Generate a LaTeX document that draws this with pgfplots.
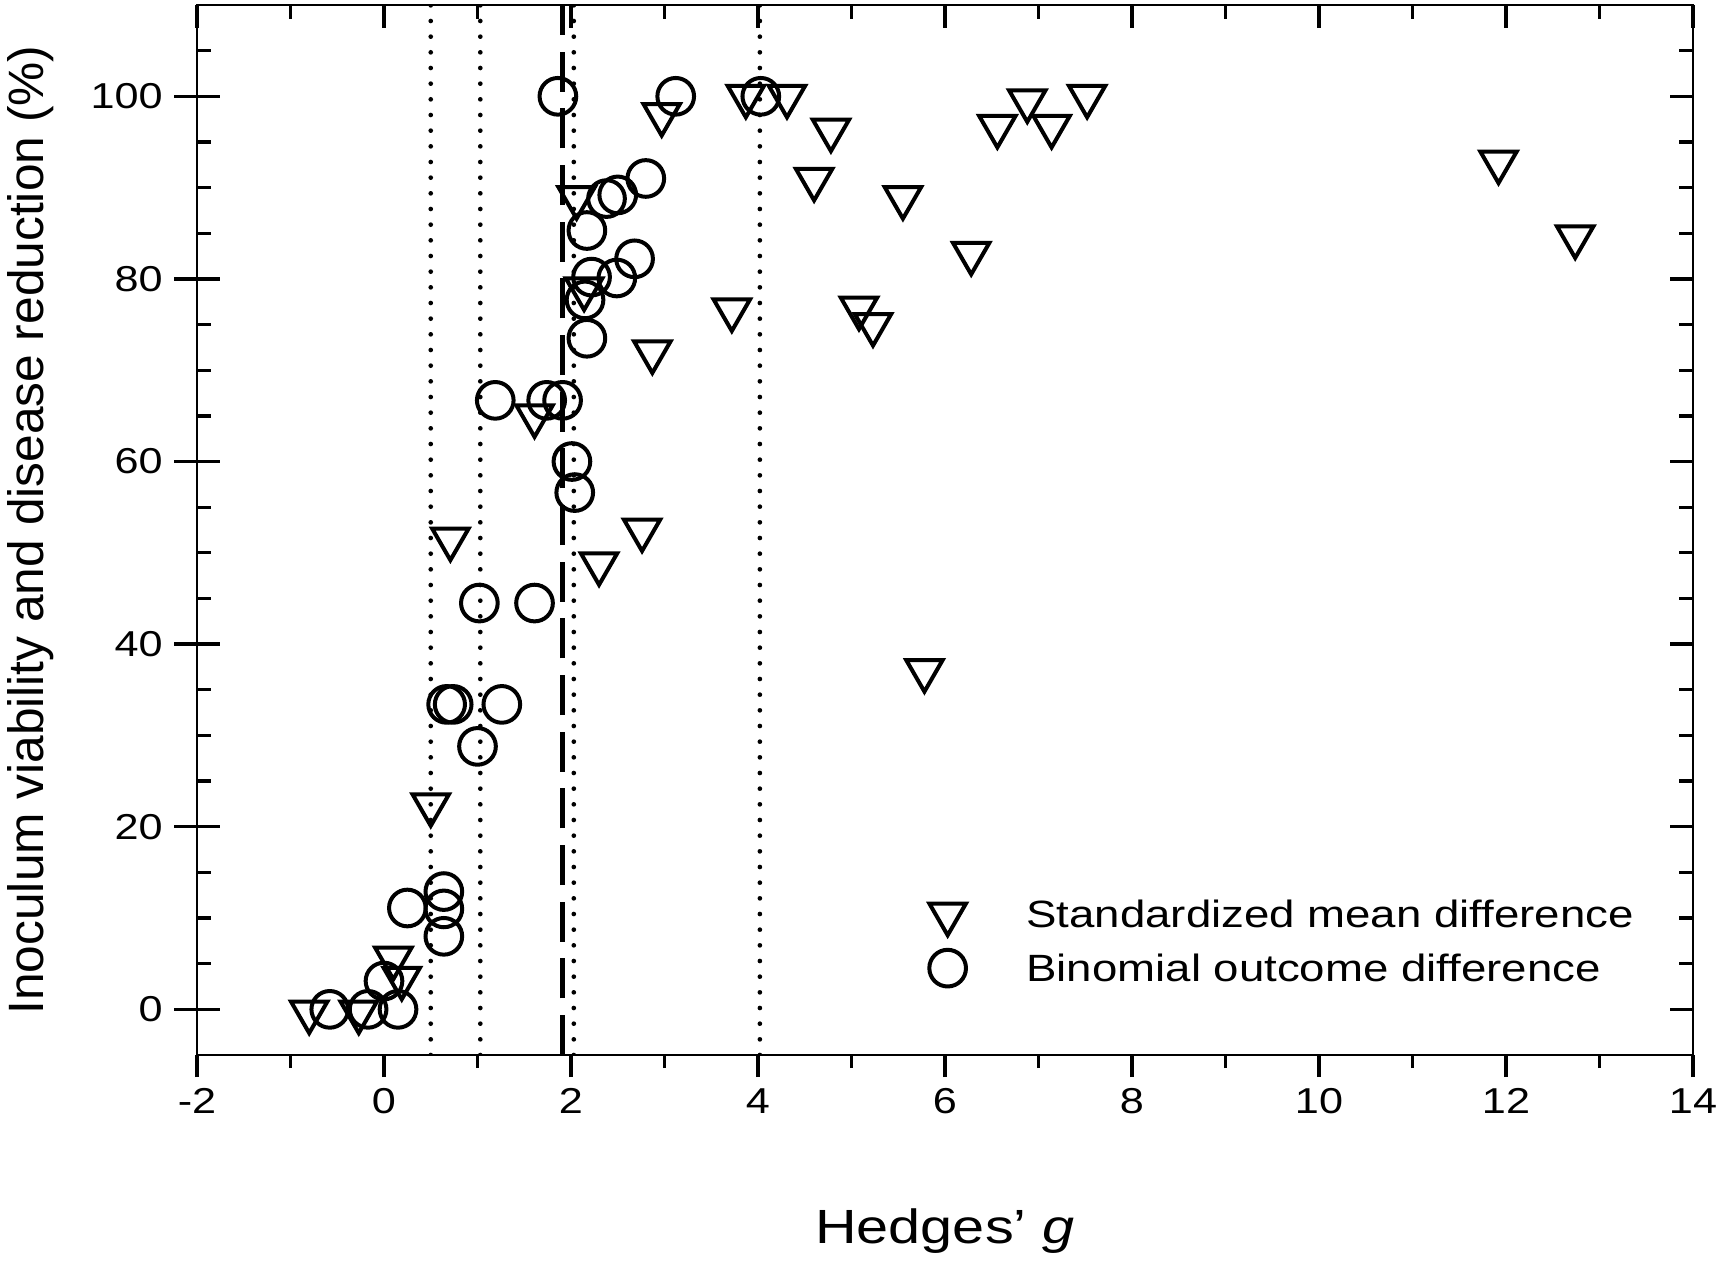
\documentclass[border=0pt]{standalone}
\usepackage{fontspec}
\setmainfont[FakeStretch=1.2]{Liberation Sans}
\newfontfamily\ylabfont{Liberation Sans}
\usepackage{pgfplots}
\pgfplotsset{compat=1.18}
\begin{document}
\begin{tikzpicture}
\useasboundingbox (-59.1pt,-61.8pt) rectangle (457.8pt,316.5pt);
\pgfplotsset{
  common/.style={
    width=448.8pt, height=315pt, scale only axis,
    xmin=-2, xmax=14, ymin=-5, ymax=110,
    axis line style={line width=0.8pt},
    every tick/.style={black, line width=1pt},
    tick label style={font=\fontsize{10.8}{13}\selectfont},
  }
}
% axis A: data, bottom ticks outward, x labels, legend
\begin{axis}[common,
  xtick={-2,0,...,14}, xticklabels={-2,0,2,4,6,8,10,12,14},
  minor xtick={-1,1,...,13},
  xtick pos=left, xtick align=outside,
  major tick length=6.6pt, minor tick length=3.9pt,
  ytick=\empty,
  xlabel={Hedges' \textit{g}},
  xlabel style={font=\fontsize{14.4}{17}\selectfont, at={(axis description cs:0.5,-0.1676)}, anchor=center},
  legend style={at={(rel axis cs:0.4835,0.1579)}, anchor=north west, draw=none, fill=none,
    font=\fontsize{11.4}{13}\selectfont, row sep=1.3pt, inner sep=0pt},
  legend cell align=left,
  legend image code/.code={\path[draw=none,fill=none] (0pt,0pt) rectangle (29.6pt,8pt); \draw[#1] plot coordinates {(8pt,0.7pt)};},
]
\addplot[forget plot, black, line width=1.4pt, line cap=round, dash pattern=on 0pt off 4.7pt] coordinates {(0.5,-5) (0.5,110)};
\addplot[forget plot, black, line width=1.4pt, line cap=round, dash pattern=on 0pt off 4.7pt] coordinates {(1.03,-5) (1.03,110)};
\addplot[forget plot, black, line width=1.4pt, line cap=round, dash pattern=on 0pt off 4.7pt] coordinates {(2.03,-5) (2.03,110)};
\addplot[forget plot, black, line width=1.4pt, line cap=round, dash pattern=on 0pt off 4.7pt] coordinates {(4.02,-5) (4.02,110)};
\addplot[forget plot, black, line width=1.4pt, dash pattern=on 12pt off 5pt] coordinates {(1.91,-5) (1.91,110)};
\addplot[only marks, black, mark=triangle, mark size=6.3pt, mark options={rotate=180, line width=1.2pt, fill=none}] coordinates {
(-0.80,-0.3) (-0.27,-0.3) (0.10,5.6) (0.19,3.4) (0.50,22.4) (0.71,51.5) (1.61,65.0)
(2.06,88.9) (2.14,78.9) (2.30,48.8) (2.76,52.5) (2.87,72.0) (2.97,98.0) (3.72,76.6)
(3.87,100.0) (4.31,100.0) (4.60,90.9) (4.78,96.3) (5.08,76.8) (5.23,75.0) (5.55,88.9)
(5.78,37.1) (6.28,82.8) (6.56,96.7) (6.88,99.5) (7.14,96.7) (7.52,100.0) (11.92,92.8) (12.74,84.6)
};
\addlegendentry{Standardized mean difference}
\addplot[only marks, black, mark=o, mark size=5.5pt, mark options={line width=1.2pt, fill=none}] coordinates {
(-0.58,0) (-0.17,0) (0.00,3.1) (0.15,0) (0.25,11.1) (0.64,12.9) (0.64,11.0) (0.64,8.0)
(0.67,33.4) (0.74,33.4) (1.00,28.8) (1.26,33.4) (1.02,44.5) (1.61,44.5)
(1.19,66.7) (1.74,66.7) (1.91,66.7) (2.01,60.0) (2.04,56.6)
(1.86,100) (3.12,100) (4.03,100)
(2.15,77.7) (2.17,73.5) (2.22,80.2) (2.49,80.1) (2.68,82.2) (2.17,85.3)
(2.38,88.8) (2.50,89.2) (2.80,91.0)
};
\addlegendentry{Binomial outcome difference}
\end{axis}
% axis B: left major y ticks (centered), y labels
\begin{axis}[common,
  xtick=\empty,
  ytick={0,20,...,100}, yticklabels={0,20,40,60,80,100},
  ytick pos=left, ytick align=center,
  major tick length=13.5pt,
  ylabel={Inoculum viability and disease reduction (\%)},
  ylabel style={font=\ylabfont\fontsize{14.9}{18}\selectfont, at={(axis description cs:-0.111,0.5)}, anchor=center},
]
\end{axis}
% axis C: inward ticks on top, left minor, right
\begin{axis}[common,
  xtick={-2,0,...,14}, xticklabels={}, minor xtick={-1,1,...,13},
  xtick pos=right, xtick align=inside,
  ytick={0,20,...,100}, yticklabels={}, minor ytick={5,10,...,105},
  ytick pos=both, ytick align=inside,
  major tick length=6.9pt, minor tick length=4.3pt,
]
\end{axis}
\end{tikzpicture}
\end{document}
